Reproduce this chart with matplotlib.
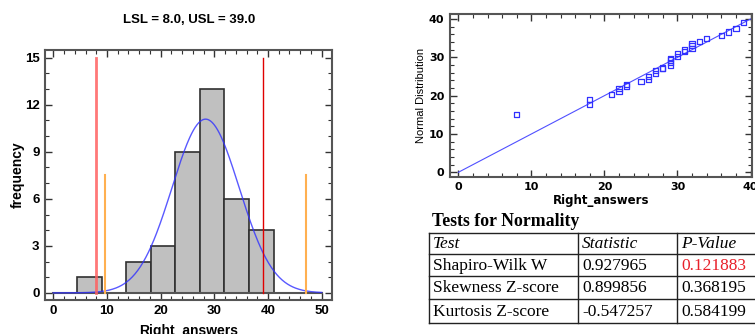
import numpy as np
import matplotlib.pyplot as plt

plt.rcParams['font.family'] = ['Liberation Sans', 'DejaVu Sans']

# histogram
bin_edges = [4.47, 9.04, 13.61, 18.18, 22.75, 27.32, 31.89, 36.46, 41.03]
counts = [1, 0, 2, 3, 9, 13, 6, 4]
fit_mean = 28.37
fit_sd = 6.25
lsl, usl = 8.0, 39.0

# normal probability plot
qq_x = [8, 18, 18, 21, 22, 22, 23, 23, 25, 26, 26, 27, 27, 28, 28, 29, 29, 29, 29,
        30, 30, 31, 31, 32, 32, 32, 33, 34, 36, 37, 38, 39]
qq_y = [15.1, 19.0, 17.7, 20.3, 21.8, 21.1, 23.0, 22.5, 23.7, 25.0, 24.3, 26.5, 25.7,
        27.2, 27.0, 29.7, 29.3, 28.6, 27.8, 31.0, 30.3, 31.9, 31.6, 33.6, 33.0, 32.3,
        34.1, 34.9, 35.6, 36.6, 37.5, 39.0]

# table
tests = ['Shapiro-Wilk W', 'Skewness Z-score', 'Kurtosis Z-score']
stats = ['0.927965', '0.899856', '-0.547257']
pvals = ['0.121883', '0.368195', '0.584199']

fig = plt.figure(figsize=(7.55, 3.34), dpi=100)

def style_axes(ax, size, family):
    for s in ax.spines.values():
        s.set_color('#555555')
        s.set_linewidth(1.5)
    ax.tick_params(which='both', direction='in', top=True, right=True, colors='#333333')
    ax.tick_params(which='major', length=5, width=1, labelsize=size, pad=4)
    ax.tick_params(which='minor', length=3, width=0.8)
    for lab in ax.get_xticklabels() + ax.get_yticklabels():
        lab.set_fontweight('bold')
        lab.set_color('black')
        lab.set_family(family)

# ---- left: histogram
ax1 = fig.add_axes([0.0596, 0.102, 0.380, 0.748])
widths = np.diff(bin_edges)
for i, c in enumerate(counts):
    if c > 0:
        ax1.bar(bin_edges[i], c, width=widths[i], align='edge', color='#c0c0c0',
                edgecolor='#303030', linewidth=1.2, zorder=2)
ax1.plot([0, 50], [0, 0], color='#555555', lw=1.5, zorder=2)
xs = np.linspace(0, 50, 300)
bw = np.mean(widths)
ys = sum(counts) * bw / (fit_sd * np.sqrt(2 * np.pi)) * np.exp(-0.5 * ((xs - fit_mean) / fit_sd) ** 2)
ax1.plot(xs, ys, color='#3030ff', lw=1, alpha=0.8, zorder=3)
ax1.plot([lsl, lsl], [0, 15], color='#ff6060', lw=2, alpha=0.85, zorder=4)
ax1.plot([usl, usl], [0, 15], color='#e00000', lw=1, zorder=4)
for v in (fit_mean - 3 * fit_sd, fit_mean + 3 * fit_sd):
    ax1.plot([v, v], [0, 7.5], color='#ffb050', lw=1.5, zorder=4)
ax1.set_xlim(-1.55, 51.9)
ax1.set_ylim(-0.45, 15.49)
ax1.set_xticks([0, 10, 20, 30, 40, 50])
ax1.set_xticks(np.arange(0, 51, 2), minor=True)
ax1.set_yticks([0, 3, 6, 9, 12, 15])
ax1.set_yticks(np.arange(0, 16, 1), minor=True)
style_axes(ax1, 9.5, ['Liberation Sans'])
ax1.set_xlabel('Right_answers', fontsize=10, fontweight='bold', labelpad=5)
ax1.set_ylabel('frequency', fontsize=10, fontweight='bold', va='center')
ax1.yaxis.set_label_coords(-0.094, 0.5)
fig.text(189 / 755, 1 - 20 / 334, 'LSL = 8.0, USL = 39.0', fontsize=9.5, fontweight='bold',
         ha='center', va='center')

# ---- right: normal probability plot
ax2 = fig.add_axes([0.596, 0.471, 0.400, 0.487])
ax2.plot([0, 40], [0, 40], color='#5050ff', lw=0.8, zorder=2)
ax2.scatter(qq_x, qq_y, marker='s', s=14, facecolors='none', edgecolors='#3030ff',
            linewidths=0.9, zorder=3)
ax2.set_xlim(-1.15, 40.2)
ax2.set_ylim(-1.15, 41.3)
ax2.set_xticks([0, 10, 20, 30, 40])
ax2.set_xticks(np.arange(0, 41, 2), minor=True)
ax2.set_yticks([0, 10, 20, 30, 40])
ax2.set_yticks(np.arange(0, 41, 2), minor=True)
style_axes(ax2, 8, ['DejaVu Sans'])
ax2.set_xlabel('Right_answers', fontsize=8.5, fontweight='bold', family=['DejaVu Sans'],
               labelpad=1)
ax2.set_ylabel('Normal Distribution', fontsize=8, family=['Liberation Sans'], va='center')
ax2.yaxis.set_label_coords(-(450 - 421) / 302, 0.5)

# ---- table
fig.text(432 / 755, 1 - 222 / 334, 'Tests for Normality', fontsize=12.8, fontweight='bold',
         family=['Liberation Serif'], va='center', ha='left')
axt = fig.add_axes([429 / 755, 1 - 323 / 334, 340 / 755, 90 / 334])
axt.axis('off')
axt.set_xlim(0, 340)
axt.set_ylim(90, 0)
col_x = [0, 149, 248, 340]
row_y = [0, 21, 43, 66, 90]
for y in row_y:
    axt.plot([0, 340], [y, y], color='#222222', lw=1, clip_on=False)
for x in col_x[:3]:
    axt.plot([x, x], [0, 90], color='#222222', lw=1, clip_on=False)
header = ['Test', 'Statistic', 'P-Value']
for j, h in enumerate(header):
    axt.text(col_x[j] + 4, (row_y[0] + row_y[1]) / 2 + 1, h, fontsize=12.5, style='italic',
             family=['Liberation Serif'], va='center', ha='left')
for i in range(3):
    yc = (row_y[i + 1] + row_y[i + 2]) / 2 + 1
    axt.text(col_x[0] + 4, yc, tests[i], fontsize=12.5, family=['Liberation Serif'],
             va='center', ha='left')
    axt.text(col_x[1] + 4, yc, stats[i], fontsize=12.5, family=['Liberation Serif'],
             va='center', ha='left')
    axt.text(col_x[2] + 4, yc, pvals[i], fontsize=12.5, family=['Liberation Serif'],
             va='center', ha='left', color='#e8202a' if i == 0 else 'black')

fig.savefig('out.png', dpi=100)
